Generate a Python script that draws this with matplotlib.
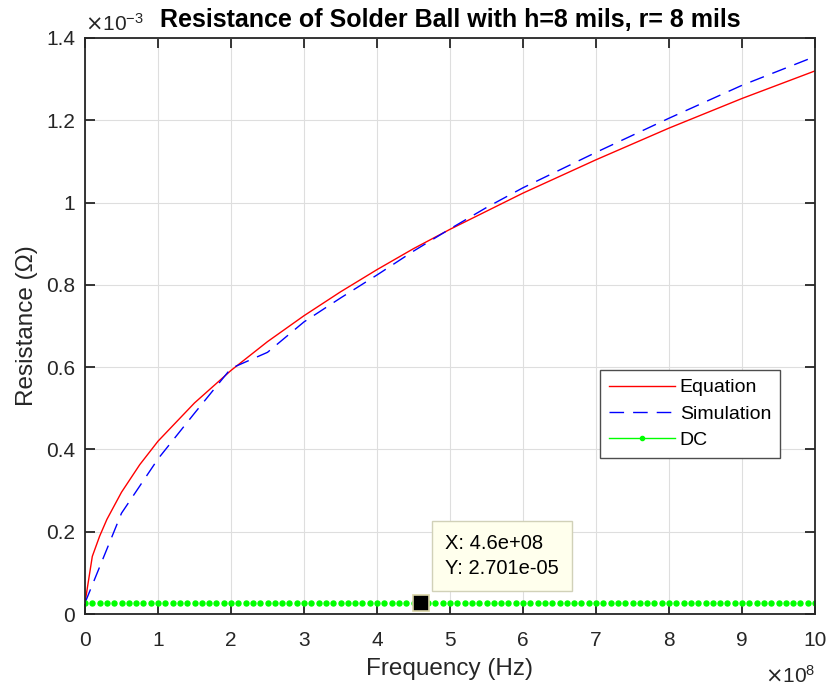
import matplotlib
matplotlib.use("Agg")
import matplotlib.pyplot as plt
from matplotlib.lines import Line2D
from matplotlib.ticker import MultipleLocator, FuncFormatter
import numpy as np

plt.rcParams['font.family'] = ['Liberation Sans', 'DejaVu Sans']

# Donnees (frequence en Hz, resistance en ohm)
f_eq = [0, 0.1e8, 0.2e8, 0.3e8, 0.5e8, 0.75e8, 1e8, 1.5e8, 2e8, 2.5e8, 3e8,
        3.5e8, 4e8, 4.5e8, 5e8, 6e8, 7e8, 8e8, 9e8, 10e8]
r_eq = [0.027e-3, 0.140e-3, 0.189e-3, 0.230e-3, 0.296e-3, 0.363e-3, 0.420e-3,
        0.513e-3, 0.592e-3, 0.662e-3, 0.725e-3, 0.783e-3, 0.837e-3, 0.888e-3,
        0.935e-3, 1.023e-3, 1.104e-3, 1.181e-3, 1.253e-3, 1.320e-3]

f_sim = [0, 0.5e8, 1e8, 1.5e8, 2e8, 2.5e8, 3e8, 3.5e8, 4e8, 4.5e8, 5e8,
         5.5e8, 6e8, 7e8, 8e8, 9e8, 10e8]
r_sim = [0.027e-3, 0.245e-3, 0.377e-3, 0.488e-3, 0.597e-3, 0.636e-3, 0.710e-3,
         0.768e-3, 0.824e-3, 0.882e-3, 0.936e-3, 0.988e-3, 1.036e-3, 1.122e-3,
         1.205e-3, 1.285e-3, 1.355e-3]

f_dc = np.arange(0, 101) * 1e7
r_dc = np.full(len(f_dc), 2.701e-5)

tip_x = 4.6e8
tip_y = 2.701e-5

ink = (0.15, 0.15, 0.15)
sim_dash = (10.5, 6.5)

fig = plt.figure(figsize=(8.27, 6.89), dpi=100)
ax = fig.add_axes([85/827, 1-614/689, 730/827, 576/689])

ax.plot(f_eq, r_eq, color='red', lw=1.0, label='Equation')
ax.plot(f_sim, r_sim, color='blue', lw=1.0, dashes=sim_dash, label='Simulation')
ax.plot(f_dc, r_dc, ls='none', marker='o', ms=3.6, color=(0, 1, 0), mec=(0, 1, 0))

# Datatip
ax.plot([tip_x], [tip_y], marker='s', ms=11, color='black', mec=(0.85, 0.83, 0.65), mew=1.2, zorder=5)
ax.annotate("X: 4.6e+08\nY: 2.701e-05", xy=(tip_x, tip_y), xytext=(24, 25),
            textcoords='offset pixels', ha='left', va='bottom', fontsize=14.5,
            color='black', linespacing=1.4,
            bbox=dict(boxstyle='square,pad=0.65', fc=(1, 1, 0.93), ec=(0.82, 0.82, 0.72), lw=1),
            zorder=6)

ax.set_xlim(0, 10e8)
ax.set_ylim(0, 1.4e-3)
ax.xaxis.set_major_locator(MultipleLocator(1e8))
ax.yaxis.set_major_locator(MultipleLocator(0.2e-3))
ax.xaxis.set_major_formatter(FuncFormatter(lambda v, p: f"{v/1e8:g}"))
ax.yaxis.set_major_formatter(FuncFormatter(lambda v, p: f"{round(v/1e-3, 3):g}"))

ax.grid(True, color=(0.87, 0.87, 0.87), lw=0.8)
ax.set_axisbelow(True)
ax.tick_params(direction='in', length=7, width=1.3, colors=ink, labelsize=15,
               top=True, right=True)
ax.tick_params(axis='x', pad=12)
ax.tick_params(axis='y', pad=7)
for s in ax.spines.values():
    s.set_color(ink)
    s.set_linewidth(1.3)

ax.set_xlabel("Frequency (Hz)", fontsize=17.5, color=ink, labelpad=6)
ax.set_ylabel("Resistance (\u03a9)", fontsize=17.5, color=ink, labelpad=6)
ax.set_title("Resistance of Solder Ball with h=8 mils, r= 8 mils", fontsize=18,
             fontweight='bold', pad=8)

# Exposants facon MATLAB
ax.text(0, 1.006, r"$\times\mathdefault{10^{-3}}$", transform=ax.transAxes,
        fontsize=15, color=ink, ha='left', va='bottom')
ax.text(1.0, -0.088, r"$\times\mathdefault{10^{8}}$", transform=ax.transAxes,
        fontsize=15, color=ink, ha='right', va='top')

handles = [Line2D([], [], color='red', lw=1.0),
           Line2D([], [], color='blue', lw=1.0, dashes=sim_dash),
           Line2D([], [], color=(0, 1, 0), lw=1.0, marker='o', ms=3)]
leg = ax.legend(handles, ['Equation', 'Simulation', 'DC'], loc='upper left',
                bbox_to_anchor=(0.7055, 0.4236), borderaxespad=0, fontsize=14,
                handlelength=3.4, handletextpad=0.25, borderpad=0.45, labelspacing=0.45,
                fancybox=False, framealpha=1, edgecolor=(0.3, 0.3, 0.3))
leg.get_frame().set_linewidth(1.0)

fig.savefig("out.png", dpi=100)
